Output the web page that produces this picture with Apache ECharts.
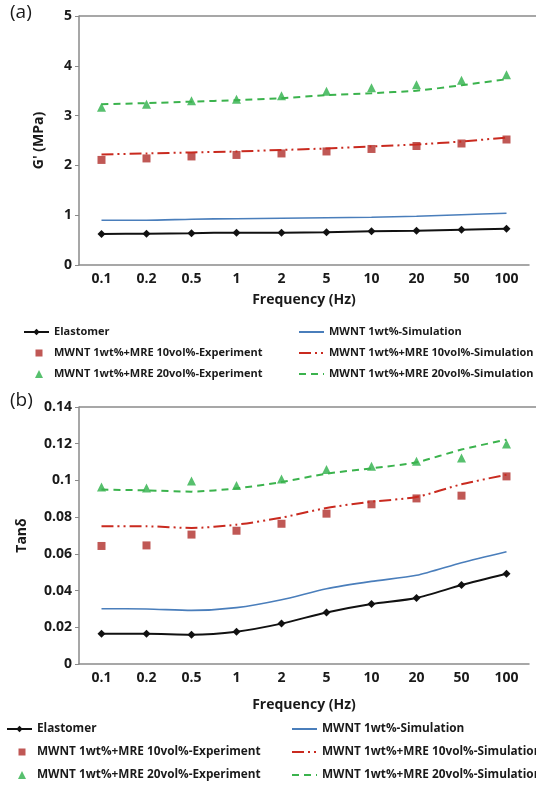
<!DOCTYPE html>
<html>
<head>
<meta charset="utf-8">
<script src="https://cdn.jsdelivr.net/npm/echarts@6/dist/echarts.min.js"></script>
<style>
  html, body { margin: 0; padding: 0; background: #fff; }
  #chart { width: 536px; height: 786px; }
</style>
</head>
<body>
<div id="chart"></div>
<script>
// Frequency sweep categories (Hz)
const frequencies = ['0.1', '0.2', '0.5', '1', '2', '5', '10', '20', '50', '100'];

// Series names
const NAME_ELASTOMER = 'Elastomer';
const NAME_MWNT_SIM = 'MWNT 1wt%-Simulation';
const NAME_MRE10_EXP = 'MWNT 1wt%+MRE 10vol%-Experiment';
const NAME_MRE10_SIM = 'MWNT 1wt%+MRE 10vol%-Simulation';
const NAME_MRE20_EXP = 'MWNT 1wt%+MRE 20vol%-Experiment';
const NAME_MRE20_SIM = 'MWNT 1wt%+MRE 20vol%-Simulation';

// (a) Storage modulus G' (MPa)
const gElastomer = [0.62, 0.63, 0.64, 0.65, 0.65, 0.66, 0.68, 0.69, 0.71, 0.73];
const gMwntSim   = [0.90, 0.90, 0.92, 0.93, 0.94, 0.95, 0.96, 0.98, 1.01, 1.04];
const gMre10Exp  = [2.11, 2.14, 2.18, 2.21, 2.24, 2.28, 2.33, 2.39, 2.44, 2.52];
const gMre10Sim  = [2.22, 2.24, 2.26, 2.28, 2.31, 2.34, 2.38, 2.42, 2.48, 2.56];
const gMre20Exp  = [3.17, 3.23, 3.30, 3.33, 3.40, 3.49, 3.56, 3.62, 3.71, 3.82];
const gMre20Sim  = [3.23, 3.25, 3.28, 3.31, 3.35, 3.41, 3.45, 3.50, 3.61, 3.73];

// (b) Loss factor tanδ
const tElastomer = [0.0165, 0.0165, 0.0160, 0.0176, 0.0220, 0.0281, 0.0327, 0.0360, 0.0430, 0.0492];
const tMwntSim   = [0.0301, 0.0300, 0.0292, 0.0307, 0.0350, 0.0410, 0.0450, 0.0483, 0.0552, 0.0612];
const tMre10Exp  = [0.0643, 0.0646, 0.0705, 0.0726, 0.0764, 0.0819, 0.0870, 0.0902, 0.0917, 0.1022];
const tMre10Sim  = [0.0750, 0.0750, 0.0741, 0.0759, 0.0797, 0.0850, 0.0884, 0.0910, 0.0979, 0.1031];
const tMre20Exp  = [0.0964, 0.0959, 0.0997, 0.0973, 0.1008, 0.1060, 0.1077, 0.1104, 0.1122, 0.1198];
const tMre20Sim  = [0.0950, 0.0946, 0.0939, 0.0957, 0.0991, 0.1037, 0.1066, 0.1099, 0.1168, 0.1222];

const COLORS = {
  black: '#111111',
  blue: '#4a7ebb',
  redMark: '#b02e2a',
  redLine: '#c92a1f',
  greenMark: '#2db04a',
  greenLine: '#3bb34d'
};
const AXIS_GRAY = '#8a8a8a';
const FONT = '"Open Sans", "Liberation Sans", sans-serif';

// legend glyphs: a marker inside a 25x8 box (zero-length moves set the box)
const ICON_SQUARE = 'path://M0,0L0,0M25,8L25,8M11.5,0.5L18.5,0.5L18.5,7.5L11.5,7.5Z';
const ICON_TRIANGLE = 'path://M0,0L0,0M25,8L25,8M15,0L19,8L11,8Z';

function buildSeries(idx, d) {
  return [
    {
      name: NAME_ELASTOMER, type: 'line', xAxisIndex: idx, yAxisIndex: idx,
      data: d[0], symbol: 'diamond', symbolSize: 8, smooth: 0.25,
      itemStyle: { color: COLORS.black },
      lineStyle: { color: COLORS.black, width: 2 }, z: 5
    },
    {
      name: NAME_MWNT_SIM, type: 'line', xAxisIndex: idx, yAxisIndex: idx,
      data: d[1], symbol: 'none', smooth: 0.25,
      itemStyle: { color: COLORS.blue },
      lineStyle: { color: COLORS.blue, width: 1.6 }
    },
    {
      name: NAME_MRE10_EXP, type: 'scatter', xAxisIndex: idx, yAxisIndex: idx,
      data: d[2], symbol: 'rect', symbolSize: 8,
      itemStyle: { color: COLORS.redMark }
    },
    {
      name: NAME_MRE10_SIM, type: 'line', xAxisIndex: idx, yAxisIndex: idx,
      data: d[3], symbol: 'none', smooth: 0.25,
      itemStyle: { color: COLORS.redLine },
      lineStyle: { color: COLORS.redLine, width: 2, type: [12, 4, 2, 4, 2, 4] }
    },
    {
      name: NAME_MRE20_EXP, type: 'scatter', xAxisIndex: idx, yAxisIndex: idx,
      data: d[4], symbol: 'triangle', symbolSize: 9,
      itemStyle: { color: COLORS.greenMark }
    },
    {
      name: NAME_MRE20_SIM, type: 'line', xAxisIndex: idx, yAxisIndex: idx,
      data: d[5], symbol: 'none', smooth: 0.25,
      itemStyle: { color: COLORS.greenLine },
      lineStyle: { color: COLORS.greenLine, width: 2, type: [7, 5] }
    }
  ];
}

function xAxisFor(idx) {
  return {
    type: 'category', gridIndex: idx, data: frequencies, boundaryGap: true,
    name: 'Frequency (Hz)', nameLocation: 'middle', nameGap: idx === 0 ? 28 : 34,
    nameTextStyle: { fontFamily: FONT, fontWeight: 'bold', fontSize: 14, color: '#1a1a1a' },
    axisLine: { lineStyle: { color: AXIS_GRAY, width: 1.5 } },
    axisTick: { show: false },
    axisLabel: { fontFamily: FONT, fontWeight: 'bold', fontSize: 14, color: '#1a1a1a', margin: 7 },
    splitLine: { show: false }
  };
}

// legend entries: line-only series hide the marker, marker-only series use a placed glyph
function legendEntries(names) {
  return names.map(n => {
    if (n === NAME_MWNT_SIM || n === NAME_MRE10_SIM || n === NAME_MRE20_SIM) {
      return { name: n, itemStyle: { opacity: 0 } };
    }
    if (n === NAME_MRE10_EXP) return { name: n, icon: ICON_SQUARE };
    if (n === NAME_MRE20_EXP) return { name: n, icon: ICON_TRIANGLE };
    return { name: n };
  });
}

function legendBlock(left, top, names, fontSize, gap) {
  return {
    orient: 'vertical', left: left, top: top, padding: 0,
    itemWidth: 25, itemHeight: 8, itemGap: gap,
    selectedMode: false, data: legendEntries(names),
    textStyle: { fontFamily: FONT, fontWeight: 'bold', fontSize: fontSize, color: '#1a1a1a', lineHeight: 14 }
  };
}

const leftNames = [NAME_ELASTOMER, NAME_MRE10_EXP, NAME_MRE20_EXP];
const rightNames = [NAME_MWNT_SIM, NAME_MRE10_SIM, NAME_MRE20_SIM];

const option = {
  animation: false,
  backgroundColor: '#ffffff',
  grid: [
    { left: 79, top: 16, width: 450, height: 249 },
    { left: 79, top: 407, width: 450, height: 257 }
  ],
  xAxis: [xAxisFor(0), xAxisFor(1)],
  yAxis: [
    {
      type: 'value', gridIndex: 0, min: 0, max: 5, interval: 1,
      name: "G' (MPa)", nameLocation: 'middle', nameGap: 33,
      nameTextStyle: { fontFamily: FONT, fontWeight: 'bold', fontSize: 14, color: '#1a1a1a' },
      axisLine: { show: true, lineStyle: { color: AXIS_GRAY, width: 1.5 } },
      axisTick: { show: true, length: 4, lineStyle: { color: AXIS_GRAY } },
      axisLabel: { fontFamily: FONT, fontWeight: 'bold', fontSize: 14, color: '#1a1a1a', margin: 7 },
      splitLine: { show: false }
    },
    {
      type: 'value', gridIndex: 1, min: 0, max: 0.14, interval: 0.02,
      name: 'Tanδ', nameLocation: 'middle', nameGap: 50,
      nameTextStyle: { fontFamily: FONT, fontWeight: 'bold', fontSize: 14, color: '#1a1a1a' },
      axisLine: { show: true, lineStyle: { color: AXIS_GRAY, width: 1.5 } },
      axisTick: { show: true, length: 4, lineStyle: { color: AXIS_GRAY } },
      axisLabel: {
        fontFamily: FONT, fontWeight: 'bold', fontSize: 14, color: '#1a1a1a', margin: 7,
        formatter: v => String(Math.round(v * 100) / 100)
      },
      splitLine: { show: false }
    }
  ],
  legend: [
    legendBlock(23, 325, leftNames, 11, 7),
    legendBlock(298, 325, rightNames, 11, 7),
    legendBlock(6, 722, leftNames, 11.8, 9),
    legendBlock(291, 722, rightNames, 11.8, 9)
  ],
  graphic: [
    { type: 'text', left: 10, top: 3, style: { text: '(a)', fontFamily: FONT, fontSize: 19, fill: '#1a1a1a' } },
    { type: 'text', left: 10, top: 391, style: { text: '(b)', fontFamily: FONT, fontSize: 19, fill: '#1a1a1a' } },
    // top frame lines of both panels
    { type: 'line', shape: { x1: 79, y1: 16, x2: 536, y2: 16 }, style: { stroke: AXIS_GRAY, lineWidth: 1.5 } },
    { type: 'line', shape: { x1: 79, y1: 407, x2: 536, y2: 407 }, style: { stroke: AXIS_GRAY, lineWidth: 1.5 } }
  ],
  series: [
    ...buildSeries(0, [gElastomer, gMwntSim, gMre10Exp, gMre10Sim, gMre20Exp, gMre20Sim]),
    ...buildSeries(1, [tElastomer, tMwntSim, tMre10Exp, tMre10Sim, tMre20Exp, tMre20Sim])
  ]
};

const chart = echarts.init(document.getElementById('chart'), null, { renderer: 'canvas' });
chart.setOption(option);
</script>
</body>
</html>
